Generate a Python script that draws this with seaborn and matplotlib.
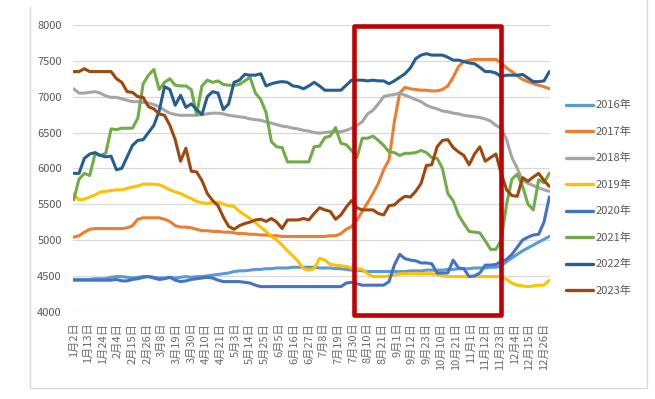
import numpy as np
import pandas as pd
import matplotlib
matplotlib.use("Agg")
import matplotlib.pyplot as plt
from matplotlib.lines import Line2D
from matplotlib.patches import Rectangle
import seaborn as sns

# ---------------- data (values read every 4th daily category) ----------------
tick_labels = ["1月2日", "1月13日", "1月24日", "2月4日", "2月15日", "2月26日", "3月8日",
               "3月19日", "3月30日", "4月10日", "4月21日", "5月3日", "5月14日", "5月25日",
               "6月5日", "6月16日", "6月27日", "7月8日", "7月19日", "7月30日", "8月10日",
               "8月21日", "9月1日", "9月12日", "9月23日", "10月10日", "10月21日", "11月1日",
               "11月12日", "11月23日", "12月4日", "12月15日", "12月26日"]
series_names = ["2016年", "2017年", "2018年", "2019年", "2020年", "2021年", "2022年", "2023年"]

y2016 = [4450, 4450, 4450, 4450, 4460, 4460, 4460,
         4480, 4490, 4490, 4480, 4470, 4480, 4490, 4490, 4480,
         4470, 4470, 4480, 4470, 4480, 4490, 4480, 4490, 4490,
         4500, 4510, 4520, 4530, 4540, 4560, 4570, 4570, 4580, 4590,
         4590, 4600, 4600, 4610, 4610, 4610, 4620, 4620, 4620, 4620,
         4620, 4610, 4610, 4610, 4600, 4600, 4590, 4580, 4580, 4570,
         4560, 4560, 4560, 4560, 4560, 4560, 4560, 4560, 4570, 4570,
         4570, 4580, 4580, 4580, 4580, 4590, 4590, 4600, 4600, 4600,
         4610, 4610, 4610, 4620, 4620, 4640, 4700, 4750, 4800, 4850,
         4890, 4930, 4970, 5010, 5050]
y2017 = [5040, 5060, 5110, 5150, 5160, 5160, 5160, 5160, 5160, 5160,
         5170, 5200, 5290, 5310, 5310, 5310, 5310, 5290, 5260, 5200,
         5180, 5180, 5170, 5150, 5130, 5130, 5120, 5120, 5110, 5110,
         5100, 5090, 5090, 5080, 5080, 5070, 5070, 5060, 5060, 5050,
         5050, 5050, 5050, 5050, 5050, 5050, 5050, 5050, 5060, 5060,
         5090, 5150, 5190, 5280, 5400, 5520, 5650, 5790, 5980, 6120,
         6650, 7050, 7130, 7110, 7100, 7090, 7090, 7080, 7080, 7100,
         7150, 7270, 7420, 7490, 7510, 7520, 7520, 7520, 7520, 7520,
         7470, 7400, 7350, 7290, 7240, 7210, 7180, 7160, 7140, 7110]
y2018 = [7110, 7050, 7050, 7060, 7070, 7050, 7010, 6990, 6990, 6970,
         6950, 6930, 6930, 6920, 6910, 6890, 6860, 6810, 6770, 6750,
         6740, 6740, 6740, 6740, 6750, 6760, 6770, 6770, 6760, 6740,
         6730, 6720, 6710, 6690, 6680, 6670, 6650, 6630, 6610, 6590,
         6580, 6560, 6550, 6530, 6520, 6500, 6490, 6500, 6510, 6510,
         6510, 6530, 6560, 6600, 6650, 6760, 6810, 6900, 7000, 7020,
         7030, 7050, 7020, 6990, 6960, 6930, 6880, 6850, 6830, 6800,
         6790, 6770, 6760, 6740, 6730, 6720, 6710, 6690, 6660, 6600,
         6560, 6400, 6150, 6000, 5830, 5790, 5760, 5730, 5700, 5680]
y2019 = [5640, 5560, 5570, 5600, 5630, 5670, 5680, 5690, 5700, 5700,
         5720, 5740, 5755, 5780, 5780, 5780, 5770, 5740, 5700, 5670,
         5650, 5610, 5580, 5540, 5520, 5510, 5520, 5530, 5500, 5480,
         5470, 5400, 5350, 5300, 5240, 5180, 5120, 5050, 5000, 4930,
         4850, 4780, 4700, 4600, 4580, 4600, 4745, 4720, 4660, 4650,
         4640, 4630, 4610, 4600, 4590, 4530, 4490, 4490, 4490, 4500,
         4510, 4530, 4530, 4530, 4530, 4530, 4530, 4530, 4520, 4500,
         4490, 4490, 4490, 4490, 4490, 4490, 4490, 4490, 4490, 4490,
         4490, 4450, 4400, 4370, 4360, 4350, 4360, 4370, 4370, 4440]
y2020 = [4440, 4440, 4440, 4440, 4440, 4440, 4440, 4440, 4450, 4430,
         4430, 4450, 4460, 4480, 4490, 4470, 4450, 4460, 4480, 4440,
         4420, 4430, 4450, 4460, 4470, 4480, 4470, 4440, 4420, 4420,
         4420, 4420, 4410, 4400, 4370, 4350, 4350, 4350, 4350, 4350,
         4350, 4350, 4350, 4350, 4350, 4350, 4350, 4350, 4350, 4350,
         4350, 4400, 4410, 4390, 4370, 4370, 4370, 4370, 4370, 4420,
         4650, 4800, 4740, 4720, 4710, 4680, 4680, 4670, 4540, 4540,
         4540, 4720, 4610, 4600, 4490, 4500, 4540, 4650, 4650, 4660,
         4700, 4730, 4800, 4900, 5000, 5040, 5070, 5080, 5250, 5600]
y2021 = [5560, 5850, 5930, 5900, 6200, 6180, 6210, 6550, 6540, 6560,
         6560, 6560, 6700, 7180, 7300, 7380, 7100, 7200, 7250, 7160,
         7150, 7150, 7100, 6750, 7150, 7230, 7200, 7220, 7170, 7160,
         7160, 7170, 7220, 7270, 7050, 6960, 6780, 6370, 6300, 6290,
         6090, 6090, 6090, 6090, 6090, 6300, 6310, 6430, 6450, 6570,
         6350, 6330, 6250, 6150, 6420, 6420, 6450, 6390, 6320, 6230,
         6220, 6180, 6210, 6210, 6220, 6250, 6220, 6150, 6140, 6000,
         5650, 5550, 5350, 5230, 5120, 5110, 5100, 4990, 4870, 4870,
         5000, 5500, 5850, 5920, 5750, 5500, 5420, 5840, 5800, 5930]
y2022 = [5930, 5930, 6140, 6200, 6220, 6180, 6160, 6170, 5980, 6000,
         6160, 6320, 6390, 6400, 6500, 6600, 6800, 7140, 7100, 6880,
         7020, 6850, 6900, 6820, 6750, 7000, 7070, 7050, 6820, 6900,
         7200, 7230, 7310, 7300, 7300, 7320, 7150, 7180, 7200, 7210,
         7200, 7150, 7140, 7110, 7150, 7200, 7150, 7090, 7090, 7090,
         7090, 7160, 7230, 7230, 7230, 7220, 7230, 7220, 7220, 7180,
         7220, 7270, 7320, 7400, 7530, 7580, 7600, 7580, 7580, 7580,
         7550, 7510, 7510, 7490, 7470, 7460, 7410, 7350, 7350, 7330,
         7280, 7300, 7300, 7300, 7310, 7260, 7210, 7210, 7220, 7350]
y2023 = [7350, 7350, 7390, 7350, 7350, 7350, 7350, 7350, 7250, 7200,
         7070, 7060, 7000, 6990, 6860, 6830, 6760, 6740, 6600, 6400,
         6100, 6280, 5960, 5950, 5830, 5650, 5550, 5480, 5320, 5190,
         5150, 5200, 5230, 5250, 5280, 5290, 5260, 5300, 5250, 5160,
         5280, 5280, 5280, 5300, 5280, 5370, 5450, 5420, 5400, 5290,
         5350, 5460, 5550, 5450, 5420, 5420, 5420, 5370, 5350, 5480,
         5490, 5560, 5610, 5600, 5680, 5790, 6040, 6050, 6300, 6390,
         6400, 6290, 6230, 6180, 6050, 6200, 6300, 6100, 6150, 6200,
         5930, 5700, 5620, 5610, 5870, 5820, 5880, 5930, 5830, 5750]

all_series = [y2016, y2017, y2018, y2019, y2020, y2021, y2022, y2023]
colors = ["#5B9BD5", "#ED7D31", "#A5A5A5", "#FFC000", "#4472C4", "#70AD47", "#255E91", "#9E480E"]

SAMPLE_STEP = 4       # one reading every 4 daily categories
N_CATEGORIES = 357
LABEL_STEP = 11

# ---------------- build long table ----------------
frames = []
for name, vals in zip(series_names, all_series):
    frames.append(pd.DataFrame({"idx": np.arange(len(vals)) * SAMPLE_STEP,
                                "value": vals, "year": name}))
df = pd.concat(frames, ignore_index=True)

sns.set_style("white")
plt.rcParams["font.family"] = ["Noto Sans CJK SC", "DejaVu Sans"]

W, H = 655, 399
fig = plt.figure(figsize=(W / 100, H / 100), dpi=100)
ax = fig.add_axes([73 / W, 1 - 311.7 / H, (550 - 73) / W, (311.7 - 25) / H])

sns.lineplot(data=df, x="idx", y="value", hue="year", hue_order=series_names,
             palette=dict(zip(series_names, colors)), linewidth=2.2, ax=ax,
             estimator=None, sort=False)

ax.set_xlim(-0.5, N_CATEGORIES - 0.5)
ax.set_ylim(4000, 8000)
ax.set_yticks(np.arange(4000, 8001, 500))
ax.set_xticks(np.arange(len(tick_labels)) * LABEL_STEP)
ax.set_xticklabels(tick_labels, rotation=90, fontsize=8, color="#6b6b6b")
ax.tick_params(axis="y", labelsize=8, colors="#595959", length=0, pad=8)
ax.tick_params(axis="x", length=0, pad=8)
ax.set_xlabel("")
ax.set_ylabel("")
ax.yaxis.grid(True, color="#D9D9D9", linewidth=0.9)
ax.set_axisbelow(True)
for s in ax.spines.values():
    s.set_visible(False)

handles, labels = ax.get_legend_handles_labels()
for h in handles:
    h.set_linewidth(2.4)
leg = ax.legend(handles, labels, loc="center left", bbox_to_anchor=(566 / W, 1 - 198 / H),
                bbox_transform=fig.transFigure, frameon=False, fontsize=8,
                handlelength=2.4, handletextpad=0.25, labelspacing=1.45,
                borderpad=0, borderaxespad=0)
for t in leg.get_texts():
    t.set_color("#595959")

# highlight box
fig.add_artist(Rectangle((354 / W, 1 - 314.7 / H), (500.5 - 354) / W, (314.7 - 26.3) / H,
                         transform=fig.transFigure, fill=False, edgecolor="#C00000",
                         linewidth=3.3, joinstyle="round"))

# chart frame
fc = "#D9D9D9"
fig.add_artist(Line2D([30 / W, 30 / W], [1 - 7 / H, 1 - 388 / H], transform=fig.transFigure, color=fc, lw=1))
fig.add_artist(Line2D([30 / W, 647 / W], [1 - 388 / H, 1 - 388 / H], transform=fig.transFigure, color=fc, lw=1))
fig.add_artist(Line2D([647 / W, 647 / W], [1.0, 1 - 388 / H], transform=fig.transFigure, color=fc, lw=1))

fig.savefig("out.png", dpi=100)
